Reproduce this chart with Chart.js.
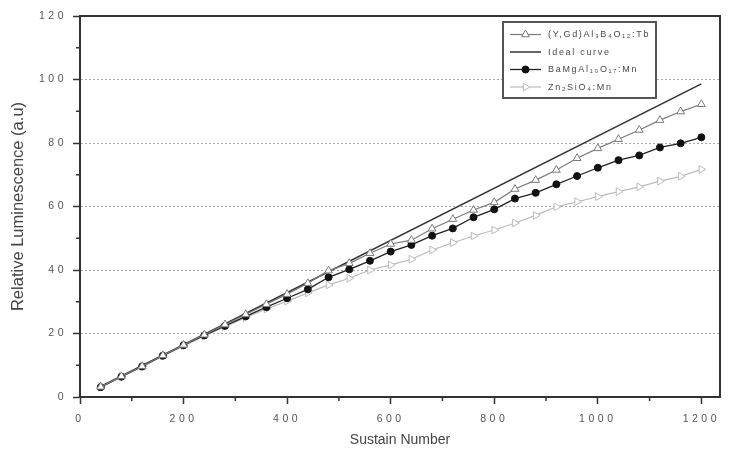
<!DOCTYPE html>
<html><head><meta charset="utf-8">
<script src="https://cdn.jsdelivr.net/npm/chart.js@4.4.1/dist/chart.umd.min.js"></script>
<style>html,body{margin:0;padding:0;background:#fff;}#wrap{width:734px;height:451px;}</style>
</head><body><div id="wrap"><canvas id="c" width="734" height="451"></canvas></div>
<script>
// ---- data ----
const sustain = [40,80,120,160,200,240,280,320,360,400,440,480,520,560,600,640,680,720,760,800,840,880,920,960,1000,1040,1080,1120,1160,1200];
const yabTb = [3.2,6.5,9.7,13.1,16.4,19.6,22.8,26.0,29.2,32.4,35.8,39.8,42.1,45.3,48.2,49.4,53.0,56.0,58.9,61.3,65.5,68.3,71.5,75.2,78.3,81.2,84.1,87.2,89.9,92.2];
const bamMn = [3.1,6.4,9.6,13.0,16.3,19.4,22.4,25.4,28.3,31.1,33.9,37.7,40.2,42.9,45.8,47.9,50.8,53.1,56.6,59.1,62.5,64.3,67.0,69.6,72.2,74.6,76.1,78.6,79.9,81.8];
const znMn = [3.1,6.4,9.6,12.9,16.1,19.2,22.2,25.0,27.7,30.2,32.8,35.3,37.4,40.0,41.6,43.4,46.3,48.6,50.7,52.6,54.8,57.2,59.9,61.5,63.1,64.7,66.2,68.0,69.5,71.7];
const idealX = [40,1200];
const idealY = [3.3,98.6];
const xMajorTicks = [0,200,400,600,800,1000,1200];
const xMinorTicks = [100,300,500,700,900,1100];
const yMajorTicks = [0,20,40,60,80,100,120];
const yMinorTicks = [10,30,50,70,90,110];
const seriesLabels = ['(Y,Gd)Al\u2083B\u2084O\u2081\u2082:Tb','Ideal curve','BaMgAl\u2081\u2080O\u2081\u2087:Mn','Zn\u2082SiO\u2084:Mn'];
const xTitle = 'Sustain Number';
const yTitle = 'Relative Luminescence (a.u)';

const pts = (xs, ys) => xs.map((x, i) => ({x: x, y: ys[i]}));
const FONT = "'Liberation Sans', Arial, sans-serif";

const framePlugin = {
  id: 'frame',
  beforeDraw(chart) { chart.ctx.letterSpacing = '3.5px'; },
  afterDraw(chart) {
    const ctx = chart.ctx, a = chart.chartArea;
    const xs = chart.scales.x, ys = chart.scales.y;
    ctx.save();
    ctx.letterSpacing = '0px';
    ctx.strokeStyle = '#333'; ctx.lineWidth = 2;
    ctx.beginPath();
    ctx.moveTo(a.left, a.top); ctx.lineTo(a.right, a.top); ctx.lineTo(a.right, a.bottom);
    ctx.stroke();
    // minor ticks
    ctx.lineWidth = 1.5;
    ctx.beginPath();
    xMinorTicks.forEach(v => { const px = xs.getPixelForValue(v); ctx.moveTo(px, a.bottom); ctx.lineTo(px, a.bottom + 4); });
    yMinorTicks.forEach(v => { const py = ys.getPixelForValue(v); ctx.moveTo(a.left, py); ctx.lineTo(a.left - 4, py); });
    ctx.stroke();
    // axis titles
    ctx.fillStyle = '#444';
    ctx.font = '14px ' + FONT;
    ctx.textAlign = 'center'; ctx.textBaseline = 'middle';
    ctx.fillText(xTitle, (a.left + a.right) / 2, 440);
    ctx.save();
    ctx.translate(18, (a.top + a.bottom) / 2);
    ctx.rotate(-Math.PI / 2);
    ctx.font = '16.5px ' + FONT;
    ctx.fillText(yTitle, 0, 0);
    ctx.restore();
    // legend
    const bx = 503, by = 22, bw = 153, bh = 76;
    ctx.fillStyle = '#fff';
    ctx.fillRect(bx, by, bw, bh);
    ctx.strokeStyle = '#555'; ctx.lineWidth = 2;
    ctx.strokeRect(bx, by, bw, bh);
    const rows = [34.5, 52, 69.5, 87];
    chart.data.datasets.forEach((ds, i) => {
      const y = rows[i];
      ctx.strokeStyle = ds.borderColor; ctx.lineWidth = ds.borderWidth;
      ctx.beginPath(); ctx.moveTo(510, y); ctx.lineTo(541, y); ctx.stroke();
      if (ds.pointRadius > 0) {
        ctx.fillStyle = ds.pointBackgroundColor; ctx.strokeStyle = ds.pointBorderColor; ctx.lineWidth = ds.pointBorderWidth;
        Chart.helpers.drawPoint(ctx, {pointStyle: ds.pointStyle, rotation: ds.pointRotation || 0, radius: ds.pointRadius, borderWidth: ds.pointBorderWidth}, 525.5, y);
      }
      ctx.fillStyle = '#4a4a4a';
      ctx.letterSpacing = '1.7px';
      ctx.font = '9px ' + FONT;
      ctx.textAlign = 'left';
      ctx.fillText(ds.label, 548, y + 0.5);
    });
    ctx.restore();
  }
};

new Chart(document.getElementById('c'), {
  type: 'line',
  data: {
    datasets: [
      {label: seriesLabels[0], data: pts(sustain, yabTb), borderColor: '#7a7a7a', borderWidth: 1.2,
       pointStyle: 'triangle', pointRadius: 4.5, pointBackgroundColor: '#fff', pointBorderColor: '#7a7a7a', pointBorderWidth: 1},
      {label: seriesLabels[1], data: pts(idealX, idealY), borderColor: '#333', borderWidth: 1.5, pointRadius: 0},
      {label: seriesLabels[2], data: pts(sustain, bamMn), borderColor: '#222', borderWidth: 1.3,
       pointStyle: 'circle', pointRadius: 3.5, pointBackgroundColor: '#111', pointBorderColor: '#111', pointBorderWidth: 1},
      {label: seriesLabels[3], data: pts(sustain, znMn), borderColor: '#bbb', borderWidth: 1.2,
       pointStyle: 'triangle', pointRotation: 90, pointRadius: 4.5, pointBackgroundColor: '#fff', pointBorderColor: '#bbb', pointBorderWidth: 1}
    ]
  },
  options: {
    responsive: false, animation: false, devicePixelRatio: 1,
    layout: {padding: {left: 0, right: 14, top: 16, bottom: 0}},
    plugins: {legend: {display: false}, tooltip: {enabled: false}},
    elements: {line: {tension: 0}},
    scales: {
      x: {
        type: 'linear', min: 0, max: 1236,
        afterBuildTicks: s => { s.ticks = xMajorTicks.map(v => ({value: v})); },
        afterFit: s => { s.height = 54; },
        ticks: {color: '#555', font: {size: 10.5, family: FONT}, padding: 9, maxRotation: 0, autoSkip: false,
                callback: v => String(v)},
        grid: {drawOnChartArea: false, tickLength: 7, tickColor: '#333', tickWidth: 1.5},
        border: {color: '#333', width: 2}
      },
      y: {
        type: 'linear', min: 0, max: 120,
        afterBuildTicks: s => { s.ticks = yMajorTicks.map(v => ({value: v})); },
        afterFit: s => { s.width = 80; },
        ticks: {color: '#555', font: {size: 10.5, family: FONT}, padding: 6, autoSkip: false,
                callback: v => String(v)},
        grid: {
          color: c => (c.tick && (c.tick.value === 0 || c.tick.value === 120)) ? 'rgba(0,0,0,0)' : '#a8a8a8',
          tickBorderDash: [], lineWidth: 1,
          tickLength: 7, tickColor: '#333', tickWidth: 1.5
        },
        border: {color: '#333', width: 2, dash: [2, 2]}
      }
    }
  },
  plugins: [framePlugin]
});
</script>
</body></html>
